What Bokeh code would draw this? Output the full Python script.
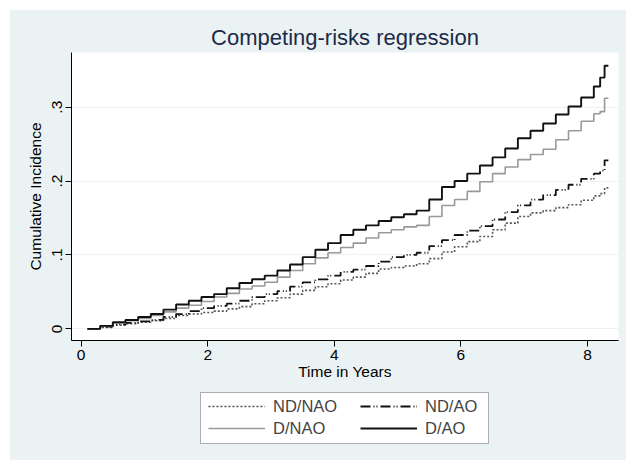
from bokeh.plotting import figure
from bokeh.models import Range1d, FixedTicker, Legend, LegendItem, BoxAnnotation
from bokeh.layouts import column
from bokeh.embed import file_html
from bokeh.resources import INLINE

# ---- data (cumulative incidence step functions) ----
time_years = [0.1, 0.3, 0.5, 0.7, 0.9, 1.1, 1.3, 1.5, 1.7, 1.9, 2.1, 2.3, 2.5, 2.7,
              2.9, 3.1, 3.3, 3.5, 3.7, 3.9, 4.1, 4.3, 4.5, 4.7, 4.9, 5.1, 5.3, 5.5,
              5.7, 5.9, 6.1, 6.3, 6.5, 6.7, 6.9, 7.1, 7.3, 7.5, 7.7, 7.9, 8.1, 8.2,
              8.27, 8.33]

nd_nao = [0.000, 0.002, 0.005, 0.007, 0.009, 0.011, 0.014, 0.018, 0.020, 0.022,
          0.024, 0.027, 0.030, 0.034, 0.038, 0.042, 0.047, 0.052, 0.057, 0.061,
          0.066, 0.070, 0.075, 0.081, 0.083, 0.085, 0.088, 0.095, 0.104, 0.111,
          0.118, 0.125, 0.134, 0.143, 0.152, 0.157, 0.160, 0.164, 0.168, 0.174,
          0.180, 0.183, 0.191, 0.191]

nd_ao = [0.000, 0.003, 0.006, 0.008, 0.010, 0.012, 0.016, 0.020, 0.024, 0.028,
         0.031, 0.034, 0.038, 0.043, 0.047, 0.051, 0.057, 0.063, 0.067, 0.072,
         0.077, 0.080, 0.085, 0.091, 0.097, 0.100, 0.103, 0.112, 0.120, 0.127,
         0.133, 0.139, 0.148, 0.158, 0.167, 0.175, 0.181, 0.188, 0.195, 0.203,
         0.210, 0.214, 0.228, 0.228]

d_nao = [0.000, 0.004, 0.008, 0.011, 0.014, 0.018, 0.023, 0.028, 0.032, 0.037,
         0.043, 0.048, 0.054, 0.058, 0.063, 0.070, 0.079, 0.088, 0.096, 0.103,
         0.110, 0.116, 0.123, 0.130, 0.134, 0.138, 0.140, 0.152, 0.167, 0.175,
         0.186, 0.199, 0.210, 0.219, 0.229, 0.236, 0.243, 0.256, 0.268, 0.281,
         0.291, 0.294, 0.312, 0.312]

d_ao = [0.000, 0.004, 0.009, 0.012, 0.016, 0.020, 0.026, 0.033, 0.038, 0.043,
        0.047, 0.055, 0.062, 0.067, 0.072, 0.079, 0.087, 0.097, 0.107, 0.116,
        0.127, 0.134, 0.140, 0.146, 0.151, 0.155, 0.160, 0.175, 0.192, 0.200,
        0.210, 0.221, 0.232, 0.244, 0.258, 0.268, 0.278, 0.290, 0.301, 0.313,
        0.328, 0.340, 0.356, 0.356]

series_labels = ["ND/NAO", "ND/AO", "D/NAO", "D/AO"]
x_ticks = [0, 2, 4, 6, 8]
y_ticks = [0, 0.1, 0.2, 0.3]
y_tick_labels = ["0", ".1", ".2", ".3"]

BG = "#eaf2f3"
FONT = "Liberation Sans"

STYLES = {
    "ND/NAO": dict(line_color="#555555", line_width=1.6, line_dash="2 2"),
    "ND/AO": dict(line_color="#111111", line_width=1.8, line_dash="10 3 1 2 1 3"),
    "D/NAO": dict(line_color="#999999", line_width=1.6),
    "D/AO": dict(line_color="#111111", line_width=1.9),
}
SERIES = {"ND/NAO": nd_nao, "ND/AO": nd_ao, "D/NAO": d_nao, "D/AO": d_ao}

# ---------------- main plot ----------------
p = figure(width=616, height=376, output_backend="svg", toolbar_location=None,
           x_range=Range1d(-0.153, 8.49), y_range=Range1d(-0.0158, 0.374),
           min_border_left=61, min_border_right=8, min_border_top=42,
           min_border_bottom=46,
           title="Competing-risks regression")

p.border_fill_color = BG
p.background_fill_color = "white"
p.outline_line_color = None

p.title.align = "center"
p.title.text_font = FONT
p.title.text_font_size = "22px"
p.title.text_font_style = "normal"
p.title.text_color = "#1c2a48"
p.title.offset = 0
p.title.standoff = 6

p.xaxis.ticker = FixedTicker(ticks=x_ticks)
p.yaxis.ticker = FixedTicker(ticks=y_ticks)
p.yaxis.major_label_overrides = {v: s for v, s in zip(y_ticks, y_tick_labels)}
p.yaxis.major_label_orientation = "vertical"
for ax in (p.xaxis[0], p.yaxis[0]):
    ax.axis_line_color = "black"
    ax.axis_line_width = 1
    ax.major_tick_line_color = "black"
    ax.major_tick_out = 6
    ax.major_tick_in = 0
    ax.minor_tick_line_color = None
    ax.major_label_text_font = FONT
    ax.major_label_text_font_size = "15.5px"
    ax.major_label_text_color = "black"
    ax.axis_label_text_font = FONT
    ax.axis_label_text_font_size = "15.5px"
    ax.axis_label_text_font_style = "normal"
    ax.axis_label_text_color = "black"
p.xaxis.axis_label = "Time in Years"
p.yaxis.axis_label = "Cumulative Incidence"
p.xaxis.major_label_standoff = 3
p.xaxis.axis_label_standoff = 0
p.yaxis.major_label_standoff = 3
p.yaxis.axis_label_standoff = 6

p.xgrid.grid_line_color = None
p.ygrid.grid_line_color = BG
p.ygrid.grid_line_width = 1

for name in ["ND/NAO", "ND/AO", "D/NAO", "D/AO"]:
    p.step(time_years, SERIES[name], mode="after", **STYLES[name])

# ---------------- legend strip (renderers kept outside its visible ranges) ----
# same side borders as the main plot, so its frame spans page x 71..618;
# x data = page x + 100, y data = page y - 286 + 100 (inverted)
q = figure(width=616, height=74, output_backend="svg", toolbar_location=None,
           x_range=Range1d(171, 718), y_range=Range1d(174, 100),
           min_border_left=61, min_border_right=8, min_border_top=0,
           min_border_bottom=0, x_axis_type=None, y_axis_type=None)
q.border_fill_color = BG
q.background_fill_color = BG
q.outline_line_color = None
q.xgrid.grid_line_color = None
q.ygrid.grid_line_color = None

q.add_layout(BoxAnnotation(left=300, right=588, top=106, bottom=157,
                           fill_color="white", fill_alpha=1,
                           line_color="black", line_width=1))

rend = {}
for name in ["ND/NAO", "ND/AO", "D/NAO", "D/AO"]:
    rend[name] = q.step(time_years, SERIES[name], mode="after", **STYLES[name])

def make_legend(names, x):
    lg = Legend(items=[LegendItem(label=n, renderers=[rend[n]]) for n in names],
                location=(x, 22))
    lg.label_text_font = FONT
    lg.label_text_font_size = "16.5px"
    lg.glyph_width = 57
    lg.glyph_height = 20
    lg.spacing = 2
    lg.padding = 0
    lg.margin = 0
    lg.label_standoff = 8
    lg.border_line_color = None
    lg.background_fill_alpha = 0
    return lg

q.add_layout(make_legend(["ND/NAO", "D/NAO"], 137), "center")
q.add_layout(make_legend(["ND/AO", "D/AO"], 289), "center")

layout = column(p, q, margin=(10, 0, 0, 10), spacing=0,
                styles={"background-color": BG})
open("out.html", "w").write(file_html(layout, INLINE))
